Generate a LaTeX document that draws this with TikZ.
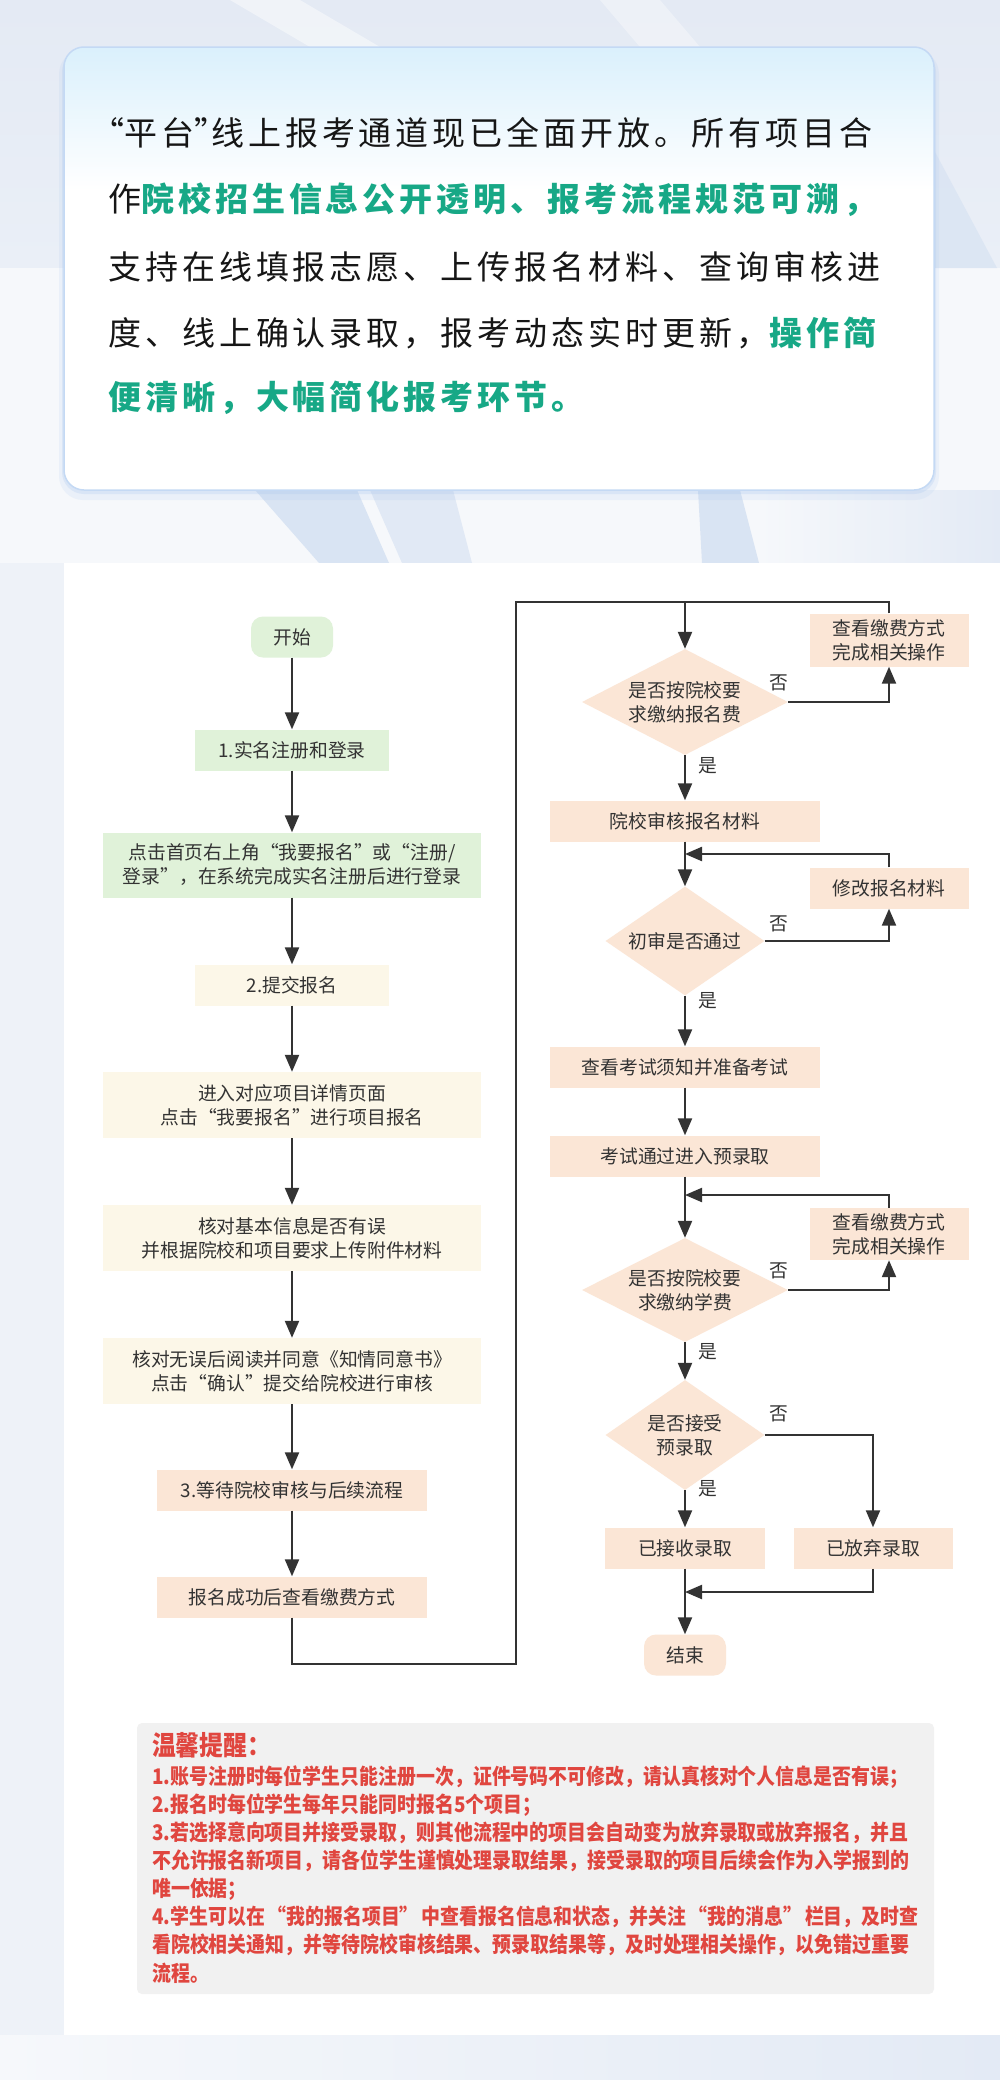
\documentclass[tikz,border=0pt]{standalone}
\usepackage{fontspec}
\setmainfont{Noto Sans CJK SC}
\newfontfamily\cjk{Noto Sans CJK SC}
\newfontfamily\topcjk{Noto Sans CJK SC}[LetterSpace=12]
\newfontfamily\tipcjk{Noto Sans CJK SC}[FakeStretch=0.88]
\usetikzlibrary{shapes.geometric,arrows.meta}

\newcommand\qopen{\makebox[1em][r]{“}}
\newcommand\qclose{\makebox[1em][l]{”}}
\newcommand\nqopen{\makebox[0.5em][r]{“}}
\newcommand\nqclose{\makebox[0.5em][l]{”}}

\definecolor{txt}{HTML}{333333}
\definecolor{cline}{HTML}{333333}
\definecolor{cgreen}{HTML}{E0F2D9}
\definecolor{ccream}{HTML}{FCF7E8}
\definecolor{cpeach}{HTML}{FBE6D6}
\definecolor{tipbg}{HTML}{F1F1F1}
\definecolor{tipred}{HTML}{E0463F}
\definecolor{hlgreen}{HTML}{17A886}
\definecolor{topblack}{HTML}{161616}
\definecolor{cardtop}{HTML}{DAF0FC}
\definecolor{cardborder}{HTML}{C4D9F4}
\definecolor{cardshadow}{HTML}{A9C6EE}
\definecolor{bgtop}{HTML}{E4EAF4}
\definecolor{bgmid}{HTML}{EAEFF7}
\definecolor{bglow}{HTML}{F6F8FB}
\definecolor{bgband}{HTML}{D9E4F3}
\definecolor{bgband2}{HTML}{E1E9F5}
\definecolor{bgside}{HTML}{EEF2F8}
\definecolor{bgright}{HTML}{E3EAF5}

\tikzset{
  flowtxt/.style={font=\cjk\fontsize{18.8pt}{24pt}\selectfont, text=txt, align=center, inner sep=0pt},
  box/.style={flowtxt, rectangle},
  gbox/.style={box, fill=cgreen},
  cbox/.style={box, fill=ccream},
  pbox/.style={box, fill=cpeach},
  term/.style={box, rounded corners=12pt, minimum width=82pt, minimum height=41pt},
  dia/.style={flowtxt, diamond, aspect=2, fill=cpeach},
  conn/.style={draw=cline, line width=2.2pt},
  arr/.style={conn, -{Triangle[length=17pt,width=14pt]}},
  yn/.style={flowtxt},
  toptxt/.style={font=\topcjk\fontsize{33pt}{33pt}\selectfont, text=topblack, anchor=west, inner sep=0pt},
  tiptxt/.style={font=\tipcjk\bfseries\fontsize{21.5pt}{28pt}\selectfont, text=tipred, anchor=west, inner sep=0pt},
  tiptitle/.style={font=\tipcjk\bfseries\fontsize{27pt}{30pt}\selectfont, text=tipred, anchor=west, inner sep=0pt},
}

\begin{document}
\begin{tikzpicture}[x=1pt,y=-1pt]
\useasboundingbox (0,0) rectangle (1000,2080);

% ---------- background ----------
\fill[bgside] (0,0) rectangle (1000,2080);
\shade[top color=bgtop, bottom color=bgmid] (0,0) rectangle (1000,268);
\fill[bglow] (0,268) rectangle (1000,563);
\fill[white, opacity=0.45] (230,0) -- (300,0) -- (380,47) -- (310,47) -- cycle;
\fill[white, opacity=0.35] (600,0) -- (660,0) -- (700,47) -- (640,47) -- cycle;
\fill[bgband, opacity=0.8] (934,150) -- (934,268) -- (997,268) -- cycle;
\fill[bgband] (255,490) -- (357,490) -- (389,563) -- (319,563) -- cycle;
\fill[bgband2] (370,490) -- (453,490) -- (472,563) -- (402,563) -- cycle;
\fill[bgband] (698,490) -- (740,490) -- (759,563) -- (702,563) -- cycle;
\shade[left color=bglow, right color=bgright] (759,490) rectangle (1000,563);
\shade[left color=bglow, right color=bgright] (0,2035) rectangle (1000,2080);

% ---------- top card ----------
\fill[cardshadow, opacity=0.15, rounded corners=24pt] (59,50) rectangle (939,500);
\fill[cardshadow, opacity=0.25, rounded corners=22pt] (62,50) rectangle (936,494);
\fill[white, rounded corners=20pt] (64,47) rectangle (934,490);
\begin{scope}
  \clip[rounded corners=20pt] (64,47) rectangle (934,490);
  \shade[top color=cardtop, bottom color=white] (64,47) rectangle (934,190);
\end{scope}
\draw[cardborder, line width=1.5pt, rounded corners=20pt] (64,47) rectangle (934,490);

\node[toptxt] (l1) at (108,133) {\nqopen 平台\nqclose 线上报考通道现已全面开放。所有项目合};
\node[toptxt] (l2) at (108,200) {作{\bfseries\color{hlgreen}院校招生信息公开透明、报考流程规范可溯，}};
\node[toptxt] (l3) at (108,267) {支持在线填报志愿、上传报名材料、查询审核进};
\node[toptxt] (l4) at (108,333) {度、线上确认录取，报考动态实时更新，{\bfseries\color{hlgreen}操作简}};
\node[toptxt] (l5) at (108,398) {{\bfseries\color{hlgreen}便清晰，大幅简化报考环节。}};

% ---------- flowchart panel ----------
\fill[white] (64,563) rectangle (1000,2035);

% left column
\node[term, fill=cgreen] (start) at (292,637) {开始};
\node[gbox, minimum width=194pt, minimum height=41pt] (s1) at (292,750) {1.实名注册和登录};
\node[gbox, minimum width=378pt, minimum height=65pt] (s1b) at (292,865) {点击首页右上角\qopen 我要报名\qclose 或\qopen 注册/\\登录\qclose ，在系统完成实名注册后进行登录};
\node[cbox, minimum width=194pt, minimum height=41pt] (s2) at (292,985) {2.提交报名};
\node[cbox, minimum width=378pt, minimum height=66pt] (s2a) at (292,1105) {进入对应项目详情页面\\点击\qopen 我要报名\qclose 进行项目报名};
\node[cbox, minimum width=378pt, minimum height=66pt] (s2b) at (292,1238) {核对基本信息是否有误\\并根据院校和项目要求上传附件材料};
\node[cbox, minimum width=378pt, minimum height=66pt] (s2c) at (292,1371) {核对无误后阅读并同意《知情同意书》\\点击\qopen 确认\qclose 提交给院校进行审核};
\node[pbox, minimum width=270pt, minimum height=41pt] (s3) at (292,1490) {3.等待院校审核与后续流程};
\node[pbox, minimum width=270pt, minimum height=41pt] (s3a) at (292,1597) {报名成功后查看缴费方式};

% right column
\node[dia, minimum width=206pt, minimum height=106pt] (d1) at (685,702) {是否按院校要\\求缴纳报名费};
\node[pbox, minimum width=159pt, minimum height=53pt] (p1) at (889,640) {查看缴费方式\\完成相关操作};
\node[pbox, minimum width=270pt, minimum height=41pt] (r1) at (685,821) {院校审核报名材料};
\node[pbox, minimum width=159pt, minimum height=41pt] (p2) at (889,888) {修改报名材料};
\node[dia, minimum width=159pt, minimum height=109pt] (d2) at (685,941) {初审是否通过};
\node[pbox, minimum width=270pt, minimum height=41pt] (r2) at (685,1067) {查看考试须知并准备考试};
\node[pbox, minimum width=270pt, minimum height=41pt] (r3) at (685,1156) {考试通过进入预录取};
\node[pbox, minimum width=159pt, minimum height=52pt] (p3) at (889,1234) {查看缴费方式\\完成相关操作};
\node[dia, minimum width=206pt, minimum height=104pt] (d3) at (685,1290) {是否按院校要\\求缴纳学费};
\node[dia, minimum width=159pt, minimum height=110pt] (d4) at (685,1435) {是否接受\\预录取};
\node[pbox, minimum width=160pt, minimum height=41pt] (acc) at (685,1548) {已接收录取};
\node[pbox, minimum width=159pt, minimum height=41pt] (rej) at (873,1548) {已放弃录取};
\node[term, fill=cpeach] (end) at (685,1655) {结束};

% junction coordinates
\coordinate (c1) at (292,1664);
\coordinate (c2) at (516,1664);
\coordinate (c3) at (516,602);
\coordinate (j0) at (685,602);
\coordinate (j1) at (685,854);
\coordinate (j2) at (685,1195);
\coordinate (j3) at (685,1592);

% left column arrows
\draw[arr] (start) -- (s1);
\draw[arr] (s1) -- (s1b);
\draw[arr] (s1b) -- (s2);
\draw[arr] (s2) -- (s2a);
\draw[arr] (s2a) -- (s2b);
\draw[arr] (s2b) -- (s2c);
\draw[arr] (s2c) -- (s3);
\draw[arr] (s3) -- (s3a);
\draw[conn] (s3a.south) -- (c1) -- (c2) -- (c3) -- (j0);

% right column arrows
\draw[arr] (j0) -- (d1.north);
\draw[conn] (p1.north) |- (j0);
\draw[arr] (d1.east) -| (p1.south);
\draw[arr] (d1.south) -- (r1.north);
\draw[arr] (r1.south) -- (d2.north);
\draw[arr] (p2.north) |- (j1);
\draw[arr] (d2.east) -| (p2.south);
\draw[arr] (d2.south) -- (r2.north);
\draw[arr] (r2.south) -- (r3.north);
\draw[arr] (r3.south) -- (d3.north);
\draw[arr] (p3.north) |- (j2);
\draw[arr] (d3.east) -| (p3.south);
\draw[arr] (d3.south) -- (d4.north);
\draw[arr] (d4.east) -| (rej.north);
\draw[arr] (d4.south) -- (acc.north);
\draw[arr] (acc.south) -- (end.north);
\draw[arr] (rej.south) |- (j3);

% yes / no labels
\node[yn] (n1) at (779,683) {否};
\node[yn] (y1) at (708,766) {是};
\node[yn] (n2) at (779,924) {否};
\node[yn] (y2) at (708,1001) {是};
\node[yn] (n3) at (779,1271) {否};
\node[yn] (y3) at (708,1352) {是};
\node[yn] (n4) at (779,1414) {否};
\node[yn] (y4) at (708,1489) {是};

% ---------- tips box ----------
\fill[tipbg, rounded corners=5pt] (137,1723) rectangle (934,1994);
\node[tiptitle] (tt) at (152,1745) {温馨提醒：};
\node[tiptxt] (t1) at (152,1777) {1.账号注册时每位学生只能注册一次，证件号码不可修改，请认真核对个人信息是否有误；};
\node[tiptxt] (t2) at (152,1805) {2.报名时每位学生每年只能同时报名5个项目；};
\node[tiptxt] (t3) at (152,1833) {3.若选择意向项目并接受录取，则其他流程中的项目会自动变为放弃录取或放弃报名，并且};
\node[tiptxt] (t4) at (152,1861) {不允许报名新项目，请各位学生谨慎处理录取结果，接受录取的项目后续会作为入学报到的};
\node[tiptxt] (t5) at (152,1889) {唯一依据；};
\node[tiptxt] (t6) at (152,1917) {4.学生可以在\qopen 我的报名项目\qclose 中查看报名信息和状态，并关注\qopen 我的消息\qclose 栏目，及时查};
\node[tiptxt] (t7) at (152,1945) {看院校相关通知，并等待院校审核结果、预录取结果等，及时处理相关操作，以免错过重要};
\node[tiptxt] (t8) at (152,1973) {流程。};
\end{tikzpicture}
\end{document}
